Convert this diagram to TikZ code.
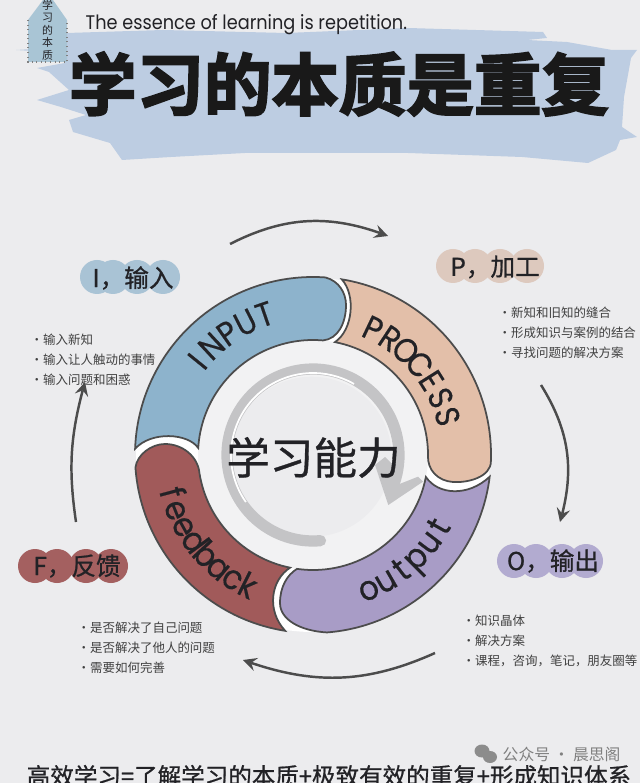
\documentclass[tikz,border=0pt]{standalone}
\usepackage{fontspec}
\usetikzlibrary{arrows.meta,bending}
\setmainfont{Noto Sans CJK SC}
\newfontfamily\cjk{Noto Sans CJK SC}
\newfontfamily\cjkmid[FakeBold=0.8]{Noto Sans CJK SC}
\newfontfamily\cjkheavy[FakeBold=3]{Noto Sans CJK SC Bold}
\newfontfamily\latinfont[FakeStretch=0.9]{Poppins}
\newfontfamily\segfont[FakeStretch=0.9,FakeBold=0.4]{Poppins}
\definecolor{pagebg}{HTML}{ECECEE}
\definecolor{discwhite}{HTML}{F2F2F3}
\definecolor{brush}{HTML}{BDCDE2}
\definecolor{tagblue}{HTML}{A9C5D5}
\definecolor{inputblue}{HTML}{8DB3CC}
\definecolor{processtan}{HTML}{E3BFA9}
\definecolor{outputlilac}{HTML}{A89CC6}
\definecolor{feedbackred}{HTML}{A15A5A}
\definecolor{pillblue}{HTML}{A9C3D5}
\definecolor{pilltan}{HTML}{DDC9BE}
\definecolor{pilllilac}{HTML}{B2ABD0}
\definecolor{pillred}{HTML}{A46060}
\definecolor{ink}{HTML}{222226}
\definecolor{swirl}{HTML}{C4C4C6}
\tikzset{>=stealth,
  segment/.style={fill=#1,draw=black!70,line width=0.5pt},
  segletter/.style={font=\segfont\fontsize{#1}{#1}\selectfont,text=ink,anchor=base,inner sep=0pt},
  cyclearrow/.style={->,draw=black!70,line width=0.7pt},
  pilltext/.style={font=\cjkmid\fontsize{7}{8}\selectfont,text=ink,inner sep=0pt},
  notetext/.style={font=\cjk\fontsize{3.55}{5.7}\selectfont,text=black!75,anchor=west,align=left,inner sep=0pt}}
\begin{document}
\begin{tikzpicture}
        \useasboundingbox (0,0) rectangle (6.4,-7.83);
        \fill[pagebg] (0,0) rectangle (6.4,-7.83);

        \fill[brush] (0.16,-0.50)--(0.67,-0.47)--(0.67,-0.33)--(1.63,-0.30)--(2.86,-0.33)--(4.08,-0.28)--(5.43,-0.32)--(5.47,-0.38)--(5.27,-0.40)--(5.67,-0.42)--(6.12,-0.50)--(6.37,-0.50)--(6.31,-0.58)--(6.24,-0.97)--(6.22,-1.27)--(6.37,-1.37)--(6.20,-1.40)--(6.16,-1.50)--(5.88,-1.63)--(5.22,-1.57)--(4.08,-1.53)--(2.45,-1.53)--(1.71,-1.57)--(1.22,-1.60)--(1.10,-1.43)--(0.73,-1.32)--(0.69,-1.20)--(0.86,-1.15)--(0.61,-1.07)--(0.37,-1.00)--(0.69,-0.90)--(0.49,-0.72)--(0.37,-0.68)--(0.65,-0.63)--(0.65,-0.53)--cycle;

        \fill[tagblue] (0.28,-0.20)--(0.43,0)--(0.53,0)--(0.67,-0.20)--(0.67,-0.62)--(0.28,-0.62)--cycle;
        \draw[black!50,densely dotted,line width=0.3pt] (0.28,-0.20)--(0.28,-0.62)--(0.67,-0.62)--(0.67,-0.20);
        \node[font=\cjk\fontsize{3.1}{3.55}\selectfont,text=ink,align=center,inner sep=0pt] (tagtext) at (0.475,-0.30) {学\\习\\的\\本\\质};
        \node[font=\latinfont\fontsize{5.6}{7}\selectfont,text=ink,anchor=west,inner sep=0pt] (subtitle) at (0.85,-0.25) {The essence of learning is repetition.};
        \node[font=\cjkheavy\fontsize{19.2}{20}\selectfont,text=black!90,inner sep=0pt] (title) at (3.39,-0.84) {学习的本质是重复};

        \begin{scope}[shift={(3.13,-4.55)}]
        \fill[white] (0,0) circle (1.77);
        \fill[discwhite] (0,0) circle (1.15);
        \fill[pagebg] (-0.013,-0.017) circle (0.80);
        \draw[swirl,line width=3.2pt,line cap=round] (-85:0.86) arc[start angle=-85,end angle=-380,radius=0.86];
        \draw[white,line width=0.5pt] (215:0.82) arc[start angle=215,end angle=60,radius=0.82];
        \fill[swirl] (0.62,-0.10) -- (0.753,-0.50) -- (1.10,-0.267) -- (1.05,-0.217) -- (0.84,-0.30) -- (0.80,-0.10) -- (0.72,-0.02) -- cycle;

        \draw[segment=inputblue] (178:1.78) arc[start angle=178,end angle=86,radius=1.78] .. controls (0.26,1.74) and (0.33,1.62) .. (0.33,1.50) .. controls (0.33,1.32) and (0.25,1.16) .. (85:1.15) arc[start angle=85,end angle=176.5,radius=1.15] .. controls (-1.25,0.22) and (-1.62,0.24) .. cycle;
        \draw[segment=processtan] (80.7:1.78) arc[start angle=80.7,end angle=-2,radius=1.78] .. controls (1.78,-0.22) and (1.55,-0.28) .. (1.40,-0.27) .. controls (1.25,-0.26) and (1.14,-0.15) .. (0:1.15) arc[start angle=0,end angle=79,radius=1.15] .. controls (0.40,1.25) and (0.43,1.60) .. cycle;
        \draw[segment=outputlilac] (-7:1.78) arc[start angle=-7,end angle=-85.5,radius=1.78] .. controls (-0.12,-1.76) and (-0.33,-1.65) .. (-0.33,-1.48) .. controls (-0.33,-1.32) and (-0.26,-1.20) .. (-98:1.15) arc[start angle=-98,end angle=-11,radius=1.15] .. controls (1.25,-0.40) and (1.55,-0.42) .. cycle;
        \draw[segment=feedbackred] (261:1.78) arc[start angle=261,end angle=184,radius=1.78] .. controls (-1.76,0.00) and (-1.62,0.11) .. (-1.48,0.11) .. controls (-1.30,0.11) and (-1.15,-0.02) .. (189:1.15) arc[start angle=189,end angle=258.5,radius=1.15] .. controls (-0.42,-1.25) and (-0.47,-1.55) .. cycle;

        \foreach \ch/\ang in {I/141,N/133,P/125,U/117,T/109}
                \node[segletter=9.6,rotate=\ang-90] (input\ang) at (\ang:1.37) {\ch};
        \foreach \ch/\ang in {P/64.6,R/56.5,O/48.4,C/40.3,E/32.2,S/24.1,S/16}
                \node[segletter=9.6,rotate=\ang-90] (process\ang) at (\ang:1.28) {\ch};
        \foreach \ch/\ang in {f/195,e/202,e/209,d/216,b/223,a/230,c/237,k/243.5}
                \node[segletter=9.8,rotate=\ang+90] (feedback\ang) at (\ang:1.58) {\ch};
        \foreach \ch/\ang in {o/-67.5,u/-60,t/-52.5,p/-45,u/-37,t/-29.5}
                \node[segletter=9.8,rotate=\ang+90] (output\ang) at (\ang:1.56) {\ch};
        \node[font=\cjkmid\fontsize{12.4}{14}\selectfont,text=ink,inner sep=0pt] (ability) at (0.005,-0.025) {学习能力};
        \end{scope}

        \foreach \cx in {0.97,1.13,1.37,1.63} \fill[pillblue] (\cx,-2.77) circle (0.17);
        \node[pilltext] (inputlabel) at (1.33,-2.78) {I，输入};
        \foreach \cx in {4.53,4.75,5.00,5.27} \fill[pilltan] (\cx,-2.66) circle (0.17);
        \node[pilltext] (processlabel) at (4.95,-2.67) {P，加工};
        \foreach \cx in {5.14,5.36,5.62,5.86} \fill[pilllilac] (\cx,-5.61) circle (0.17);
        \node[pilltext] (outputlabel) at (5.53,-5.61) {O，输出};
        \foreach \cx in {0.35,0.57,0.86,1.11} \fill[pillred] (\cx,-5.66) circle (0.17);
        \node[pilltext] (feedbacklabel) at (0.77,-5.66) {F，反馈};

        \node[notetext] (inputnotes) at (0.30,-3.60) {·输入新知\\·输入让人触动的事情\\·输入问题和困惑};
        \node[notetext] (processnotes) at (4.98,-3.33) {·新知和旧知的缝合\\·形成知识与案例的结合\\·寻找问题的解决方案};
        \node[notetext] (outputnotes) at (4.62,-6.41) {·知识晶体\\·解决方案\\·课程，咨询，笔记，朋友圈等};
        \node[notetext] (feedbacknotes) at (0.77,-6.48) {·是否解决了自己问题\\·是否解决了他人的问题\\·需要如何完善};

        \coordinate (topstart) at (2.30,-2.44);
        \coordinate (topend) at (3.88,-2.36);
        \coordinate (rightstart) at (5.41,-3.85);
        \coordinate (rightend) at (5.60,-5.22);
        \coordinate (bottomstart) at (4.35,-6.53);
        \coordinate (bottomend) at (2.43,-6.60);
        \coordinate (leftstart) at (0.76,-5.22);
        \coordinate (leftend) at (0.85,-3.82);
        \draw[cyclearrow] (topstart) to[bend left=24] (topend);
        \draw[cyclearrow] (rightstart) to[bend left=24] (rightend);
        \draw[cyclearrow] (bottomstart) to[bend left=22] (bottomend);
        \draw[cyclearrow] (leftstart) to[bend left=12] (leftend);

        \fill[black!45] (4.82,-7.51) ellipse (0.075cm and 0.065cm);
        \fill[black!45] (4.90,-7.57) ellipse (0.07cm and 0.06cm);
        \node[font=\cjk\fontsize{4.5}{5}\selectfont,text=black!50,anchor=west,inner sep=0pt] (watermark) at (5.02,-7.54) {公众号 · 晨思阁};
        \node[font=\cjkmid\fontsize{6.7}{7}\selectfont,text=ink,inner sep=0pt] (formula) at (3.29,-7.76) {高效学习=了解学习的本质+极致有效的重复+形成知识体系};
\end{tikzpicture}
\end{document}
